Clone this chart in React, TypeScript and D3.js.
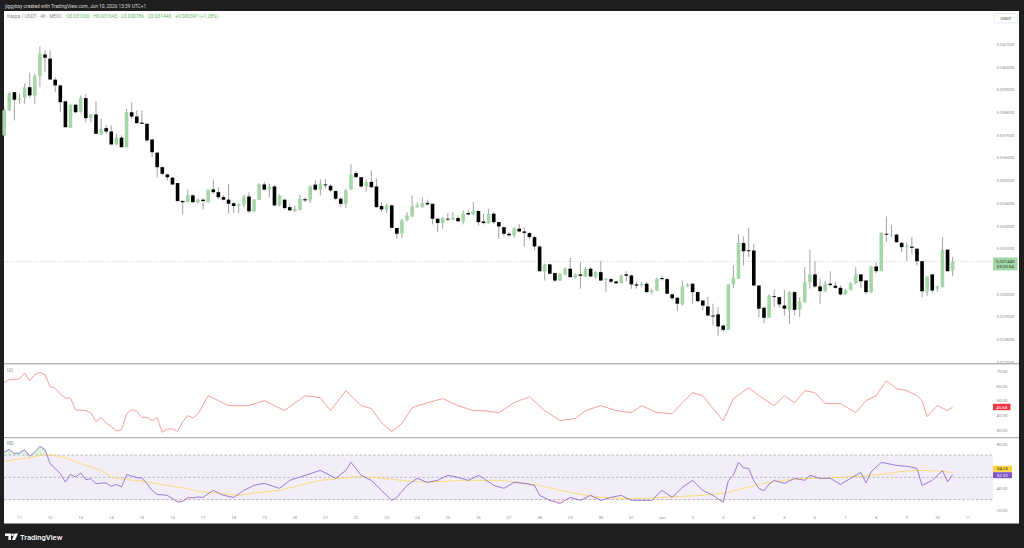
import React from 'react';
import * as d3 from 'd3';

// Kaspa / USDT 4h candles, May 10 12:00 -> Jun 10 12:00
const opens = [
  0.03699, 0.03809, 0.03889, 0.03856, 0.03865, 0.03911, 0.03875, 0.03959, 0.04055, 0.04037,
  0.03944, 0.03919, 0.03849, 0.03733, 0.03834, 0.03801, 0.03863, 0.03775, 0.03791, 0.03702,
  0.03731, 0.03716, 0.03659, 0.03689, 0.03647, 0.03801, 0.03782, 0.03755, 0.03750, 0.03681,
  0.03623, 0.03559, 0.03527, 0.03513, 0.03489, 0.03410, 0.03405, 0.03435, 0.03405, 0.03416,
  0.03405, 0.03461, 0.03449, 0.03427, 0.03416, 0.03400, 0.03388, 0.03395, 0.03430, 0.03365,
  0.03416, 0.03483, 0.03460, 0.03474, 0.03391, 0.03416, 0.03383, 0.03366, 0.03372, 0.03418,
  0.03413, 0.03482, 0.03460, 0.03483, 0.03477, 0.03454, 0.03420, 0.03398, 0.03460, 0.03533,
  0.03515, 0.03474, 0.03494, 0.03474, 0.03388, 0.03372, 0.03391, 0.03291, 0.03266, 0.03325,
  0.03342, 0.03383, 0.03383, 0.03402, 0.03398, 0.03332, 0.03313, 0.03332, 0.03328, 0.03335,
  0.03321, 0.03357, 0.03350, 0.03366, 0.03320, 0.03313, 0.03354, 0.03317, 0.03295, 0.03266,
  0.03259, 0.03288, 0.03276, 0.03269, 0.03251, 0.03210, 0.03101, 0.03131, 0.03093, 0.03060,
  0.03087, 0.03112, 0.03075, 0.03087, 0.03078, 0.03112, 0.03075, 0.03097, 0.03063, 0.03066,
  0.03056, 0.03048, 0.03087, 0.03082, 0.03043, 0.03040, 0.03046, 0.03009, 0.03016, 0.03071,
  0.03066, 0.02999, 0.02984, 0.02955, 0.03034, 0.03046, 0.03009, 0.02972, 0.02946, 0.02906,
  0.02911, 0.02862, 0.02843, 0.03043, 0.03068, 0.03225, 0.03193, 0.03192, 0.03038, 0.02940,
  0.02896, 0.02991, 0.02987, 0.02950, 0.02931, 0.03009, 0.02931, 0.02965, 0.03053, 0.03087,
  0.03034, 0.03013, 0.03046, 0.03037, 0.03028, 0.02999, 0.03019, 0.03048, 0.03087, 0.03060,
  0.03009, 0.03122, 0.03101, 0.03266, 0.03260, 0.03262, 0.03226, 0.03207, 0.03209, 0.03200,
  0.03145, 0.03013, 0.03087, 0.03024, 0.03031, 0.03196, 0.031036,
];
const highs = [
  0.03815, 0.03889, 0.03890, 0.03882, 0.03926, 0.03975, 0.03970, 0.04091, 0.04073, 0.04073,
  0.03955, 0.03919, 0.03850, 0.03835, 0.03835, 0.03875, 0.03882, 0.03792, 0.03849, 0.03772,
  0.03743, 0.03743, 0.03706, 0.03699, 0.03816, 0.03845, 0.03809, 0.03809, 0.03753, 0.03681,
  0.03623, 0.03562, 0.03530, 0.03515, 0.03489, 0.03413, 0.03460, 0.03439, 0.03420, 0.03420,
  0.03461, 0.03505, 0.03471, 0.03435, 0.03486, 0.03405, 0.03400, 0.03439, 0.03449, 0.03418,
  0.03489, 0.03494, 0.03486, 0.03479, 0.03439, 0.03416, 0.03395, 0.03391, 0.03439, 0.03427,
  0.03479, 0.03501, 0.03505, 0.03508, 0.03486, 0.03457, 0.03427, 0.03464, 0.03571, 0.03542,
  0.03515, 0.03504, 0.03545, 0.03508, 0.03405, 0.03398, 0.03391, 0.03295, 0.03332, 0.03361,
  0.03435, 0.03405, 0.03427, 0.03416, 0.03398, 0.03332, 0.03339, 0.03357, 0.03361, 0.03347,
  0.03369, 0.03369, 0.03405, 0.03369, 0.03354, 0.03376, 0.03361, 0.03317, 0.03295, 0.03273,
  0.03295, 0.03310, 0.03295, 0.03273, 0.03259, 0.03210, 0.03134, 0.03134, 0.03093, 0.03093,
  0.03119, 0.03160, 0.03090, 0.03141, 0.03119, 0.03119, 0.03101, 0.03145, 0.03071, 0.03071,
  0.03060, 0.03087, 0.03101, 0.03087, 0.03053, 0.03053, 0.03053, 0.03024, 0.03072, 0.03082,
  0.03072, 0.03002, 0.02987, 0.03060, 0.03048, 0.03048, 0.03013, 0.02972, 0.02987, 0.02958,
  0.02943, 0.02862, 0.03043, 0.03126, 0.03263, 0.03254, 0.03292, 0.03222, 0.03038, 0.02946,
  0.02999, 0.03019, 0.02987, 0.03019, 0.03013, 0.03013, 0.02987, 0.03119, 0.03196, 0.03145,
  0.03068, 0.03057, 0.03101, 0.03053, 0.03038, 0.03024, 0.03053, 0.03119, 0.03087, 0.03060,
  0.03126, 0.03141, 0.03273, 0.03342, 0.03303, 0.03266, 0.03229, 0.03229, 0.03251, 0.03203,
  0.03145, 0.03078, 0.03087, 0.03038, 0.03251, 0.03196, 0.031645,
];
const lows = [
  0.03695, 0.03806, 0.03765, 0.03838, 0.03838, 0.03865, 0.03838, 0.03911, 0.03978, 0.03945,
  0.03889, 0.03801, 0.03734, 0.03732, 0.03797, 0.03800, 0.03757, 0.03757, 0.03705, 0.03701,
  0.03706, 0.03658, 0.03655, 0.03646, 0.03646, 0.03772, 0.03750, 0.03749, 0.03669, 0.03603,
  0.03513, 0.03523, 0.03501, 0.03479, 0.03405, 0.03351, 0.03404, 0.03402, 0.03398, 0.03373,
  0.03404, 0.03442, 0.03420, 0.03413, 0.03354, 0.03357, 0.03357, 0.03383, 0.03357, 0.03361,
  0.03413, 0.03457, 0.03425, 0.03386, 0.03386, 0.03374, 0.03366, 0.03361, 0.03369, 0.03405,
  0.03402, 0.03454, 0.03435, 0.03464, 0.03449, 0.03413, 0.03383, 0.03380, 0.03460, 0.03513,
  0.03468, 0.03449, 0.03468, 0.03380, 0.03361, 0.03357, 0.03292, 0.03244, 0.03248, 0.03320,
  0.03339, 0.03380, 0.03380, 0.03391, 0.03307, 0.03273, 0.03288, 0.03321, 0.03325, 0.03317,
  0.03307, 0.03347, 0.03347, 0.03303, 0.03307, 0.03310, 0.03310, 0.03244, 0.03254, 0.03254,
  0.03248, 0.03272, 0.03210, 0.03240, 0.03192, 0.03100, 0.03060, 0.03087, 0.03053, 0.03057,
  0.03082, 0.03072, 0.03068, 0.03024, 0.03075, 0.03075, 0.03068, 0.03060, 0.03009, 0.03048,
  0.03046, 0.03046, 0.03057, 0.03024, 0.03024, 0.03034, 0.03004, 0.02999, 0.03013, 0.03060,
  0.02999, 0.02972, 0.02925, 0.02950, 0.03031, 0.02958, 0.02965, 0.02928, 0.02902, 0.02862,
  0.02818, 0.02833, 0.02843, 0.03028, 0.03068, 0.03126, 0.03163, 0.03038, 0.02899, 0.02872,
  0.02896, 0.02943, 0.02940, 0.02906, 0.02870, 0.02906, 0.02899, 0.02960, 0.03024, 0.03028,
  0.02958, 0.03009, 0.03034, 0.03024, 0.02994, 0.02996, 0.03016, 0.03043, 0.03028, 0.02999,
  0.03004, 0.03093, 0.03101, 0.03229, 0.03251, 0.03225, 0.03185, 0.03145, 0.03178, 0.03126,
  0.02987, 0.02994, 0.03009, 0.03009, 0.03028, 0.03101, 0.030786,
];
const closes = [
  0.03809, 0.03885, 0.03856, 0.03862, 0.03911, 0.03875, 0.03960, 0.04059, 0.04041, 0.03945,
  0.03919, 0.03845, 0.03735, 0.03834, 0.03801, 0.03863, 0.03775, 0.03791, 0.03706, 0.03728,
  0.03716, 0.03659, 0.03689, 0.03647, 0.03801, 0.03782, 0.03753, 0.03750, 0.03677, 0.03625,
  0.03559, 0.03530, 0.03515, 0.03483, 0.03410, 0.03405, 0.03435, 0.03405, 0.03416, 0.03410,
  0.03460, 0.03449, 0.03427, 0.03416, 0.03398, 0.03388, 0.03395, 0.03430, 0.03365, 0.03416,
  0.03483, 0.03460, 0.03474, 0.03391, 0.03435, 0.03379, 0.03369, 0.03376, 0.03420, 0.03413,
  0.03474, 0.03460, 0.03486, 0.03479, 0.03457, 0.03420, 0.03398, 0.03457, 0.03527, 0.03515,
  0.03474, 0.03494, 0.03471, 0.03383, 0.03373, 0.03391, 0.03292, 0.03266, 0.03325, 0.03347,
  0.03386, 0.03391, 0.03401, 0.03395, 0.03332, 0.03313, 0.03335, 0.03328, 0.03336, 0.03321,
  0.03354, 0.03351, 0.03366, 0.03317, 0.03313, 0.03354, 0.03317, 0.03298, 0.03266, 0.03259,
  0.03288, 0.03276, 0.03270, 0.03251, 0.03210, 0.03101, 0.03131, 0.03090, 0.03060, 0.03090,
  0.03112, 0.03075, 0.03087, 0.03081, 0.03112, 0.03078, 0.03097, 0.03060, 0.03068, 0.03055,
  0.03048, 0.03082, 0.03081, 0.03043, 0.03038, 0.03046, 0.03009, 0.03016, 0.03068, 0.03066,
  0.03002, 0.02982, 0.02958, 0.03034, 0.03043, 0.03009, 0.02969, 0.02950, 0.02906, 0.02902,
  0.02858, 0.02843, 0.03043, 0.03072, 0.03225, 0.03189, 0.03189, 0.03038, 0.02936, 0.02896,
  0.02994, 0.02987, 0.02955, 0.02936, 0.03009, 0.02931, 0.02968, 0.03053, 0.03087, 0.03034,
  0.03013, 0.03046, 0.03040, 0.03028, 0.02999, 0.03019, 0.03048, 0.03087, 0.03057, 0.03009,
  0.03122, 0.03101, 0.03269, 0.03262, 0.03263, 0.03229, 0.03207, 0.03211, 0.03204, 0.03145,
  0.03013, 0.03078, 0.03016, 0.03034, 0.03196, 0.03101, 0.03144,
];

// indicator readings: [candle index, value]
const uoPoints = [
  [0, 62.4], [1, 64.3], [3, 64.8], [4, 68.8], [5, 63.6], [6, 67.7], [7, 69.3], [8, 67.7], [9, 59.5], [10, 58.4],
  [11, 54.6], [12, 51.8], [13, 51.8], [14, 43.7], [16, 43.2], [17, 41.6], [18, 35.7], [19, 38.6], [20, 34.8], [21, 32.3],
  [22, 29.4], [23, 30.1], [24, 41.0], [25, 43.9], [26, 42.7], [27, 38.6], [28, 38.6], [29, 36.4], [30, 38.6], [31, 28.4],
  [32, 30.7], [33, 30.7], [34, 29.1], [35, 35.7], [36, 39.8], [37, 38.2], [38, 41.0], [40, 53.4], [44, 46.6], [48, 46.6],
  [51, 50], [55, 43.2], [59, 53.4], [62, 52], [64, 43.2], [67, 56.8], [70, 46.6], [72, 44.6], [74, 35], [76, 28.9],
  [78, 34.4], [80, 45.2], [83, 48.6], [86, 51.4], [89, 46.6], [92, 43.2], [94, 43.2], [97, 41.8], [100, 48.6], [103, 52.7],
  [106, 43.2], [109, 36.4], [112, 37.8], [114, 43.2], [117, 46.6], [120, 43.2], [123, 41.8], [125, 46.6], [128, 41.8], [131, 41.2],
  [133, 48.6], [135, 55.4], [137, 53.4], [139, 44.6], [141, 36.4], [143, 51.4], [146, 58.8], [148, 53.4], [151, 46.6], [153, 53.4],
  [155, 48.6], [157, 56.8], [159, 55.4], [161, 48], [164, 48], [167, 41.8], [169, 50], [171, 53.4], [173, 63.6], [175, 58.2],
  [177, 56.8], [179, 53.4], [180, 50], [181, 39.1], [183, 46.6], [185, 43.2], [186, 45.68],
];
const rsiPoints = [
  [0, 72.8], [1, 75.0], [2, 71.4], [3, 71.9], [4, 75.0], [5, 68.9], [6, 72.8], [7, 77.9], [8, 75.0], [9, 62.5],
  [11, 53.3], [12, 45.8], [13, 52.7], [14, 50.3], [15, 53.9], [16, 47.9], [17, 48.8], [18, 44.3], [19, 44.9], [20, 44.9],
  [21, 41.9], [22, 43.7], [23, 41.3], [24, 52.4], [25, 51.2], [26, 49.7], [27, 49.4], [28, 44.3], [29, 38.3], [30, 34.7],
  [32, 33.8], [33, 30.8], [34, 27.7], [35, 28.4], [36, 31.7], [37, 31.7], [38, 32.3], [39, 32.0], [41, 38.3], [43, 33.8],
  [45, 32.0], [47, 38.3], [49, 42.8], [51, 44.6], [54, 40.1], [56, 47.3], [59, 51.8], [62, 56.3], [65, 49.1], [67, 56.3],
  [68, 63.5], [70, 51.8], [72, 47.3], [74, 38.3], [76, 29.3], [77, 32.0], [79, 42.8], [81, 49.1], [83, 45.5], [85, 47.3],
  [87, 51.8], [89, 50], [91, 47.3], [93, 51.8], [94, 49.1], [96, 42.8], [98, 40.1], [100, 45.5], [102, 44.6], [104, 42.8],
  [105, 33.8], [107, 29.3], [109, 26.6], [111, 32.0], [113, 29.3], [115, 33.8], [117, 29.3], [119, 32.0], [121, 33.8], [123, 29.3],
  [125, 29.3], [127, 29.3], [129, 38.3], [131, 32.0], [133, 41.0], [135, 47.3], [137, 38.3], [139, 33.8], [141, 27.5], [142, 47],
  [143, 52], [144, 63.5], [145, 58.5], [146, 58], [147, 47], [148, 40], [149, 38], [150, 44], [151, 47.3], [153, 44.6],
  [155, 49.1], [157, 47.3], [158, 51.8], [160, 49.1], [162, 49.1], [164, 43.7], [166, 49.1], [168, 54.5], [169, 45], [170, 55],
  [172, 63.5], [173, 62.6], [175, 60.8], [177, 59.9], [179, 58.1], [180, 42.8], [182, 47.3], [184, 56], [185, 46], [186, 52.32],
];
const rsiMaPoints = [
  [0, 64.4], [2, 65.9], [5, 67.7], [7, 69.8], [9, 70.5], [12, 67.7], [15, 62.3], [19, 56.3], [21, 50.3], [24, 47.9],
  [27, 46.7], [30, 44.3], [33, 41.9], [36, 39.8], [38, 37.4], [42, 35.6], [46, 33.8], [50, 36.5], [54, 38.3], [58, 42.8],
  [62, 47.3], [66, 49.1], [70, 50.9], [74, 49.1], [78, 47.3], [82, 45.5], [86, 46.4], [90, 47.3], [94, 47.3], [97, 47.3],
  [101, 45.5], [105, 42.8], [109, 38.3], [113, 34.7], [117, 32.0], [121, 31.1], [125, 31.1], [129, 32.0], [133, 32.9], [137, 33.8],
  [141, 35.6], [145, 40.1], [149, 44.6], [153, 47.3], [157, 49.1], [160, 49.1], [164, 50], [168, 50.9], [172, 52.7], [176, 55.4],
  [180, 56.3], [184, 55.4], [186, 54.25],
];

const priceTicks = [0.041, 0.040, 0.039, 0.038, 0.037, 0.036, 0.035, 0.034, 0.033, 0.032, 0.030, 0.029, 0.028, 0.027];
const uoTicks = [70, 60, 50, 40, 30];
const rsiTicks = [80, 40, 20];
const dayLabels = [
  '11', '12', '13', '14', '15', '16', '17', '18', '19', '20', '21', '22', '23', '24', '25', '26',
  '27', '28', '29', '30', '31', 'Jun', '2', '3', '4', '5', '6', '7', '8', '9', '10', '11',
];
const lastPrice = 0.03144;

const FONT = 'Roboto, "Noto Sans", sans-serif';
const GREEN = '#a5d6a7';

export default function App() {
  const W = 1024, H = 548;
  const plotLeft = 4, plotRight = 993;
  const x = d3.scaleLinear().domain([3, 129]).range([19.5, 662]);
  const y = d3.scaleLinear().domain([0.027, 0.041]).range([362.3, 44.3]);
  const yUo = d3.scaleLinear().domain([30, 70]).range([430, 371.3]);
  const yRsi = d3.scaleLinear().domain([20, 80]).range([510.7, 444]);
  const bodyW = 3.6;

  const uoLine = d3.line().x(d => x(d[0])).y(d => yUo(d[1]));
  const rsiLine = d3.line().x(d => x(d[0])).y(d => yRsi(d[1]));
  const rsiAreaHigh = d3.area().x(d => x(d[0])).y0(yRsi(70)).y1(d => yRsi(d[1]));
  const rsiAreaLow = d3.area().x(d => x(d[0])).y0(yRsi(30)).y1(d => yRsi(d[1]));

  const gray = '#8c8f99';

  return (
    <svg width={W} height={H} style={{ position: 'fixed', left: 0, top: 0 }} fontFamily={FONT}>
      <defs>
        <clipPath id="pricePane"><rect x={plotLeft} y={11} width={1015} height={352} /></clipPath>
        <clipPath id="above70"><rect x={plotLeft} y={438} width={plotRight - plotLeft} height={yRsi(70) - 438} /></clipPath>
        <clipPath id="below30"><rect x={plotLeft} y={yRsi(30)} width={plotRight - plotLeft} height={512 - yRsi(30)} /></clipPath>
      </defs>
      <rect width={W} height={H} fill="#1e1e1e" />
      <rect x={plotLeft} y={11} width={1015} height={512.5} fill="#ffffff" />

      {/* top caption */}
      <text x={5} y={7.5} fontSize={4.8} fill="#d8d8d8">jiggybsy created with TradingView.com, Jun 10, 2026 13:39 UTC+1</text>

      {/* legend */}
      <text x={7} y={18.3} fontSize={4.8} fill="#8a8d96">
        Kaspa / USDT · 4h · MEXC
        <tspan dx={4} fill="#5fb865">O0.031036</tspan>
        <tspan dx={4} fill="#5fb865">H0.031645</tspan>
        <tspan dx={4} fill="#5fb865">L0.030786</tspan>
        <tspan dx={4} fill="#5fb865">C0.031440</tspan>
        <tspan dx={4} fill="#5fb865">+0.000397 (+1.28%)</tspan>
      </text>

      {/* USDT box */}
      <rect x={994.5} y={13.5} width={23} height={9.5} rx={1.5} fill="#fff" stroke="#e0e3eb" strokeWidth={0.7} />
      <text x={1006} y={20} fontSize={4.4} textAnchor="middle" fill="#333">USDT</text>

      {/* price axis labels */}
      <g clipPath="url(#pricePane)">
        {priceTicks.map(t => (
          <text key={t} x={996.5} y={y(t) + 1.6} fontSize={4.3} fill="#8a8d96">{t.toFixed(6)}</text>
        ))}
      </g>

      {/* last price line */}
      <line x1={plotLeft} x2={plotRight} y1={y(lastPrice)} y2={y(lastPrice)} stroke="#b8bbc4" strokeWidth={0.7} strokeDasharray="1 2" />

      {/* candles */}
      <g>
        {closes.map((c, i) => {
          const o = opens[i];
          const cx = x(i);
          const up = c >= o;
          const top = y(Math.max(o, c));
          const bot = y(Math.min(o, c));
          return (
            <g key={i}>
              <line x1={cx} x2={cx} y1={y(highs[i])} y2={y(lows[i])} stroke="#8a8a8a" strokeWidth={0.8} />
              <rect x={cx - bodyW / 2} y={top} width={bodyW} height={Math.max(bot - top, 0.9)} fill={up ? GREEN : '#000'} />
            </g>
          );
        })}
      </g>

      {/* last price label */}
      <rect x={993} y={y(lastPrice) - 4} width={24.5} height={13} fill={GREEN} />
      <text x={1005.2} y={y(lastPrice) + 1.6} fontSize={4.4} textAnchor="middle" fill="#1b3a1d">0.031440</text>
      <text x={1005.2} y={y(lastPrice) + 7} fontSize={4.4} textAnchor="middle" fill="#1b3a1d">03:20:54</text>

      {/* pane separators */}
      <line x1={plotLeft} x2={1019} y1={363.7} y2={363.7} stroke="#b2b5be" strokeWidth={1.4} />
      <line x1={plotLeft} x2={1019} y1={437.6} y2={437.6} stroke="#b2b5be" strokeWidth={1.4} />

      {/* UO pane */}
      <text x={7} y={371.5} fontSize={4.6} fill="#8a8d96">UO</text>
      {uoTicks.map(t => (
        <text key={t} x={996.5} y={yUo(t) + 1.6} fontSize={4.3} fill="#8a8d96">{t.toFixed(2)}</text>
      ))}
      <path d={uoLine(uoPoints)} fill="none" stroke="#f5877f" strokeWidth={0.8} />
      <rect x={993} y={yUo(45.68) - 3.2} width={17.5} height={6.4} fill="#f23645" />
      <text x={1001.7} y={yUo(45.68) + 1.6} fontSize={4.3} textAnchor="middle" fill="#fff">45.68</text>

      {/* RSI pane */}
      <text x={7} y={445.3} fontSize={4.6} fill="#8a8d96">RSI</text>
      <rect x={plotLeft} y={yRsi(70)} width={plotRight - plotLeft} height={yRsi(30) - yRsi(70)} fill="#7e57c2" fillOpacity={0.1} />
      {[70, 50, 30].map(v => (
        <line key={v} x1={plotLeft} x2={plotRight} y1={yRsi(v)} y2={yRsi(v)} stroke="#9598a1" strokeWidth={0.6} strokeDasharray="2.5 2" />
      ))}
      <path d={rsiAreaHigh(rsiPoints)} fill="#4caf50" fillOpacity={0.18} clipPath="url(#above70)" />
      <path d={rsiAreaLow(rsiPoints)} fill="#f23645" fillOpacity={0.15} clipPath="url(#below30)" />
      <path d={rsiLine(rsiMaPoints)} fill="none" stroke="#fbd75b" strokeWidth={0.8} />
      <path d={rsiLine(rsiPoints)} fill="none" stroke="#8461c8" strokeWidth={0.8} />
      {rsiTicks.map(t => (
        <text key={t} x={996.5} y={yRsi(t) + 1.6} fontSize={4.3} fill="#8a8d96">{t.toFixed(2)}</text>
      ))}
      <rect x={993} y={465.8} width={19} height={6} fill="#fbd33b" />
      <text x={1002.5} y={470.4} fontSize={4.3} textAnchor="middle" fill="#222">54.25</text>
      <rect x={993} y={472.2} width={19} height={6} fill="#7e57c2" />
      <text x={1002.5} y={476.8} fontSize={4.3} textAnchor="middle" fill="#fff">52.32</text>

      {/* time axis */}
      {dayLabels.map((d, k) => (
        <text key={k} x={x(3 + 6 * k)} y={518.8} fontSize={4.3} textAnchor="middle" fill="#8a8d96">{d}</text>
      ))}

      {/* TradingView logo */}
      <g fill="#ffffff">
        <path d="M5 533.5 h6 v6.5 h-2.6 v-3.9 h-3.4 z" />
        <circle cx={12.6} cy={534.8} r={1.3} />
        <path d="M14.6 533.5 h3.4 l-2.9 6.5 h-3.2 z" />
      </g>
      <text x={20} y={539.6} fontSize={7.6} fontWeight={500} fill="#ffffff">TradingView</text>
    </svg>
  );
}
